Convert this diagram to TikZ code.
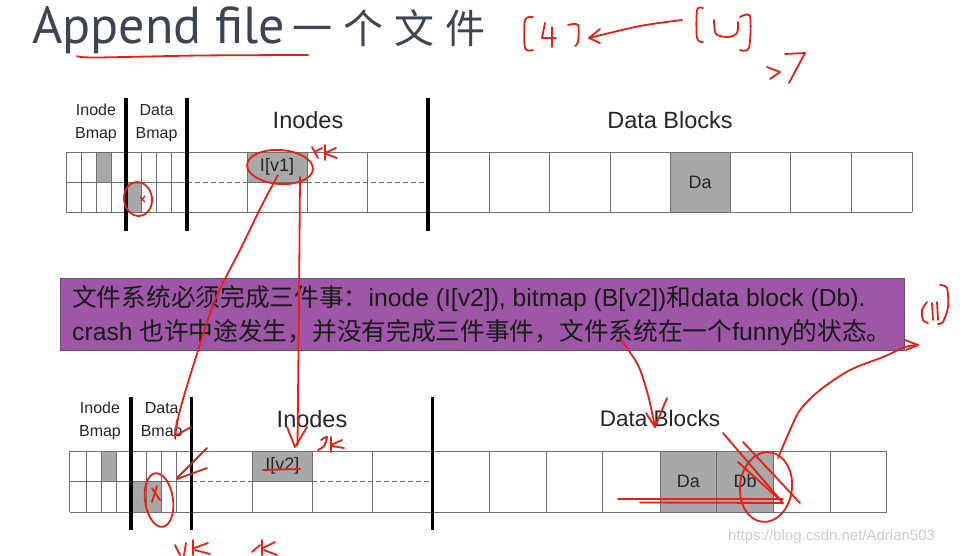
\documentclass[tikz,border=0pt]{standalone}
\usepackage{fontspec}
\setmainfont{Liberation Sans}
\newfontfamily\cjk{Noto Sans CJK SC}
\newfontfamily\ttlfont{PT Sans}
\definecolor{gridc}{RGB}{110,110,110}
\definecolor{cellc}{RGB}{168,168,168}
\definecolor{boxc}{RGB}{158,86,166}
\definecolor{boxline}{RGB}{105,75,112}
\definecolor{redc}{RGB}{235,30,20}
\definecolor{ttlc}{RGB}{62,68,84}
\definecolor{wmc}{RGB}{205,205,205}
\begin{document}
\begin{tikzpicture}[x=1pt,y=-1pt,
 gridline/.style={draw=gridc,line width=0.8pt},
 dashline/.style={draw=gridc,line width=0.8pt,dash pattern=on 5pt off 3pt},
 sepline/.style={draw=black,line width=3.2pt},
 cellnode/.style={draw=gridc,fill=cellc,line width=0.8pt,inner sep=0pt,text=black!85,font=\fontsize{18}{18}\selectfont},
 lab/.style={align=center,text=black!85,font=\fontsize{16}{22.5}\selectfont,inner sep=0pt},
 head/.style={text=black!85,font=\fontsize{23.5}{24}\selectfont,inner sep=0pt},
 msgtext/.style={anchor=base west,inner sep=0pt,text=black!90,font=\fontsize{24.7}{25}\selectfont},
 pen/.style={draw=redc,line width=1.8pt,line cap=round,line join=round},
]
\fill[white] (0,0) rectangle (976,555);
\useasboundingbox (0,0) rectangle (976,555);

% ---------- title ----------
\node[anchor=base west,inner sep=0pt,text=ttlc,font=\ttlfont\fontsize{52}{52}\selectfont] (ttl) at (32,43) {Append file};
\node[anchor=base west,inner sep=0pt,text=ttlc,font=\cjk\fontsize{40}{40}\selectfont] (ttlcn) at (292,43) {一\hspace{11pt}个\hspace{11pt}文\hspace{11pt}件};

% ---------- top layout ----------
\draw[gridline] (66,152) -- (912,152);
\draw[gridline] (66,212) -- (912,212);
\draw[gridline] (66,182) -- (187,182);
\foreach \x in {66,81,96,111,141,156.5,171.5,247,307,367,489,549.5,610,670,730,790.5,851,912}
  \draw[gridline] (\x,152) -- (\x,212);
\draw[dashline] (187,182) -- (247,182);
\draw[dashline] (307,182) -- (428,182);
\node[cellnode,minimum width=15pt,minimum height=30pt] (ibA) at (103.5,167) {};
\node[cellnode,minimum width=15pt,minimum height=30pt] (dbA) at (133.5,197) {};
\node[cellnode,minimum width=60pt,minimum height=30pt] (iv1) at (277,167) {I[v1]};
\node[cellnode,minimum width=60pt,minimum height=60pt] (daA) at (700,182) {Da};
\foreach \x in {126,187,428} \draw[sepline] (\x,98) -- (\x,231);
\node[lab] (ibmA) at (96,123) {Inode\\Bmap};
\node[lab] (dbmA) at (156.5,123) {Data\\Bmap};
\node[head] (inA) at (308,120) {Inodes};
\node[head] (dbkA) at (670,120) {Data Blocks};

% ---------- message box ----------
\node[draw=boxline,fill=boxc,line width=0.8pt,minimum width=844pt,minimum height=72pt,inner sep=0pt] (msg) at (482,314) {};
\node[msgtext] (msg1) at (72,306.7) {{\cjk 文件系统必须完成三件事：}inode (I[v2]), bitmap (B[v2]){\cjk 和}data block (Db).};
\node[msgtext] (msg2) at (72,340) {crash {\cjk 也许中途发生，并没有完成三件事件，文件系统在一个}funny{\cjk 的状态。}};

% ---------- bottom layout ----------
\draw[gridline] (69.5,451) -- (886.7,451);
\draw[gridline] (69.5,512) -- (886.7,512);
\draw[gridline] (69.5,481.7) -- (191.7,481.7);
\foreach \x in {69.5,86,101.7,116.7,146,161.7,176.7,252.3,312.3,372.7,489.3,546,602.7,660,716.7,773.3,830,886.7}
  \draw[gridline] (\x,451) -- (\x,512);
\draw[dashline] (191.7,481.7) -- (252.3,481.7);
\draw[dashline] (312.3,481.7) -- (432.7,481.7);
\node[cellnode,minimum width=15pt,minimum height=30.7pt] (ibB) at (109.2,466.3) {};
\node[cellnode,minimum width=30.7pt,minimum height=30.3pt] (dbB) at (146.3,496.8) {};
\draw[gridline] (146,481.7) -- (146,512);
\node[cellnode,minimum width=60pt,minimum height=30.7pt] (iv2) at (282.3,466.3) {I[v2]};
\node[cellnode,minimum width=56.7pt,minimum height=61pt] (daB) at (688.3,481.5) {Da};
\node[cellnode,minimum width=56.6pt,minimum height=61pt] (dbB2) at (745,481.5) {Db};
\foreach \x in {131,191.7,432.7} \draw[sepline] (\x,397) -- (\x,530);
\node[lab] (ibmB) at (100,421) {Inode\\Bmap};
\node[lab] (dbmB) at (161.7,421) {Data\\Bmap};
\node[head] (inB) at (312,419) {Inodes};
\node[head,font=\fontsize{22.5}{23}\selectfont] (dbkB) at (660,418) {Data Blocks};

% watermark
\node[anchor=west,inner sep=0pt,text=wmc,font=\fontsize{15}{15}\selectfont] (wm) at (728,537) {https://blog.csdn.net/Adrian503};

% ---------- red handwriting ----------
% underline of the title
\draw[pen] plot[smooth] coordinates {(77,56) (95,57.5) (200,55.5) (308,55)};
% (4) <- (4)  >7
\draw[pen] plot[smooth] coordinates {(533,17) (525,20) (525,48) (533,50)};
\draw[pen] (545,23) -- (542,38) -- (556,38);
\draw[pen] (552,27) -- (552,47);
\draw[pen] plot[smooth] coordinates {(568,25) (578,25) (578,42) (575,46)};
\draw[pen] plot[smooth] coordinates {(682,20) (640,26) (589,38)};
\draw[pen] (600,29) -- (589,38) -- (600,43);
\draw[pen] plot[smooth] coordinates {(703,8) (697,10) (697,38) (703,42)};
\draw[pen] plot[smooth] coordinates {(714,20) (716,34) (728,37) (737,33) (738,22)};
\draw[pen] plot[smooth] coordinates {(740,17) (750,16) (749,48) (740,50)};
\draw[pen] (767,67) -- (780,72) -- (770,79);
\draw[pen] (785,54) -- (805,53) -- (789,83);
% top: circles and marks
\draw[pen,rotate around={-4:(280,167)}] (280,167) ellipse [x radius=33, y radius=17];
\draw[pen] (312,147) -- (318,158);
\draw[pen] (316,151) -- (322,148);
\draw[pen] (325,145) -- (325,160);
\draw[pen] (325,153) -- (336,148);
\draw[pen] (326,154) -- (337,158);
\draw[pen,rotate around={8:(138,199)}] (138,199) ellipse [x radius=14, y radius=17];
\draw[pen,line width=1.2pt] (140,197) -- (145,202) (145,196) -- (141,201);
% long arrow from I[v1] to bottom data bitmap
\draw[pen] plot[smooth] coordinates {(278,175) (262,205) (240,250) (215,300) (195,360) (180,410) (175,436)};
\draw[pen] (191,427) -- (175,436) -- (177,420);
% vertical arrow from I[v1] to I[v2]
\draw[pen] plot[smooth] coordinates {(300,177) (299,300) (297.5,445)};
\draw[pen] (287,427) -- (295,447) -- (307,427);
% marks near I[v2]
\draw[pen] plot[smooth] coordinates {(321,440) (327,437) (324,446) (318,450)};
\draw[pen] (331,437) -- (331,452);
\draw[pen] (331,445) -- (342,440);
\draw[pen] (332,446) -- (344,448);
\draw[pen] (263,470) -- (300,469);
% arrow to bottom data bitmap
\draw[pen] (207,448) -- (177,478);
\draw[pen] (207,468) -- (177,479);
\draw[pen,rotate around={8:(159,500)}] (159,500) ellipse [x radius=14, y radius=27];
\draw[pen] (152,488) -- (160,500) (157,486) -- (152,502);
% scribbles below
\draw[pen] (175,545) -- (180,555);
\draw[pen] (186,543) -- (184,555);
\draw[pen] (193,540) -- (193,555);
\draw[pen] (194,548) -- (208,543);
\draw[pen] (195,550) -- (210,554);
\draw[pen] (252,552) -- (260,545);
\draw[pen] (262,540) -- (262,555);
\draw[pen] (263,548) -- (275,542);
\draw[pen] (264,550) -- (277,555);
% curve from message to Data Blocks
\draw[pen] plot[smooth] coordinates {(621,340) (638,365) (648,395) (655,427)};
\draw[pen] (646,413) -- (655,427);
\draw[pen] plot[smooth] coordinates {(655,427) (662,410) (667,398)};
% Db marks
\draw[pen,rotate around={-6:(766,487)}] (766,487) ellipse [x radius=26, y radius=35];
\draw[pen] (723,433) -- (783,503);
\draw[pen] (743,442) -- (800,503);
\draw[pen] (738,462) -- (780,500);
\draw[pen] (618,499) -- (783,499);
\draw[pen] (640,502.5) -- (783,503);
% curve from Db to the right
\draw[pen] plot[smooth] coordinates {(778,458) (790,430) (800,410) (820,390) (850,370) (883,357) (905,347) (918,345)};
\draw[pen] (905,340) -- (918,345) -- (906,350);
% right (4)
\draw[pen] plot[smooth] coordinates {(927,302) (922,310) (923,320) (928,323)};
\draw[pen] (932,303) -- (933,320);
\draw[pen] (937,302) -- (938,320);
\draw[pen] plot[smooth] coordinates {(940,285) (947,288) (948,307) (943,322) (938,324)};
\end{tikzpicture}
\end{document}
